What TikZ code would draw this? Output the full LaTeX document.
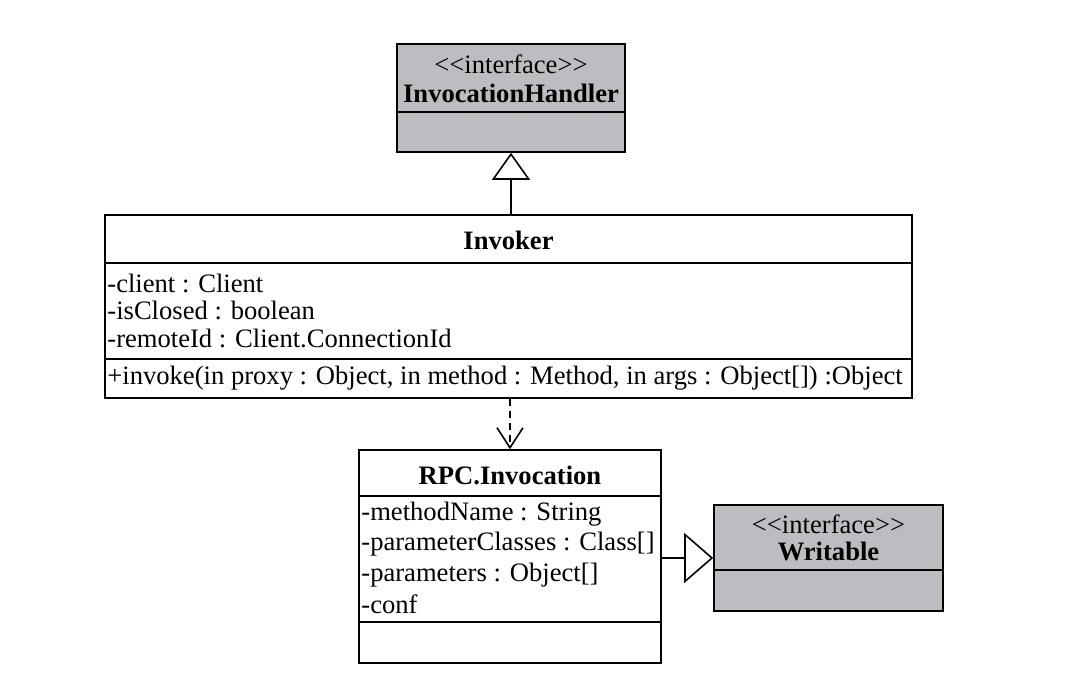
\documentclass[tikz,border=0pt]{standalone}
\usepackage{fontspec}
\setmainfont{Liberation Serif}
\usetikzlibrary{arrows.meta}
\definecolor{ifgray}{RGB}{189,189,193}
\tikzset{
  umlbox/.style={draw,line width=0.8pt,inner sep=0pt},
  ifbox/.style={umlbox,fill=ifgray},
  umltxt/.style={inner sep=0pt,font=\fontsize{13.3}{15}\selectfont},
  umlname/.style={inner sep=0pt,font=\fontsize{13.3}{15}\selectfont\bfseries},
  umlattr/.style={umltxt,anchor=west},
  umlline/.style={line width=0.8pt},
  genarrow/.style={umlline,-{Triangle[open,length=13.5pt,width=19pt]}},
  realarrow/.style={umlline,-{Triangle[open,length=14.5pt,width=25pt]}},
  deparrow/.style={umlline,dash pattern=on 3.5pt off 2.5pt,-{Straight Barb[length=10pt,width=13pt]}}
}
\begin{document}
\begin{tikzpicture}[x=0.5pt,y=-0.5pt]
\useasboundingbox (0,0) rectangle (1078,684);
% interface InvocationHandler
\node[ifbox,minimum width=114pt,minimum height=54pt] (handler) at (511,98) {};
\node[umltxt] (handlerst) at (511,64) {<{}<interface>{}>};
\node[umlname] (handlername) at (511,93) {InvocationHandler};
\draw[umlline] (397,112) -- (625,112);
% Invoker
\node[umlbox,minimum width=403.5pt,minimum height=91.5pt] (invoker) at (508.5,306.5) {};
\node[umlname] (invokername) at (508.5,240) {Invoker};
\draw[umlline] (105,263) -- (912,263);
\foreach \y/\t [count=\i] in {283/-client : Client,310/-isClosed : boolean,338/-remoteId : Client.ConnectionId}
  \node[umlattr] (invokerattr\i) at (107,\y) {\t};
\draw[umlline] (105,359) -- (912,359);
\node[umlattr] (invokerop) at (107,378) {+invoke(in proxy : Object, in method : Method, in args : Object[]) :Object};
% RPC.Invocation
\node[umlbox,minimum width=151pt,minimum height=106.5pt] (rpc) at (510,556.5) {};
\node[umlname] (rpcname) at (510,475) {RPC.Invocation};
\draw[umlline] (359,496) -- (661,496);
\foreach \y/\t [count=\i] in {514/-methodName  : String,544/-parameterClasses : Class[],575/-parameters : Object[],604/-conf}
  \node[umlattr] (rpcattr\i) at (361,\y) {\t};
\draw[umlline] (359,622) -- (661,622);
% interface Writable
\node[ifbox,minimum width=114.5pt,minimum height=53pt] (writable) at (828.5,558) {};
\node[umltxt] (writablest) at (828.5,524) {<{}<interface>{}>};
\node[umlname] (writablename) at (828.5,551) {Writable};
\draw[umlline] (714,570) -- (943,570);
% relations
\draw[genarrow] (handler.south |- invoker.north) -- (handler.south);
\draw[deparrow] (rpc.north |- invoker.south) -- (rpc.north);
\draw[realarrow] (rpc.east |- writable.west) -- (writable.west);
\end{tikzpicture}
\end{document}
